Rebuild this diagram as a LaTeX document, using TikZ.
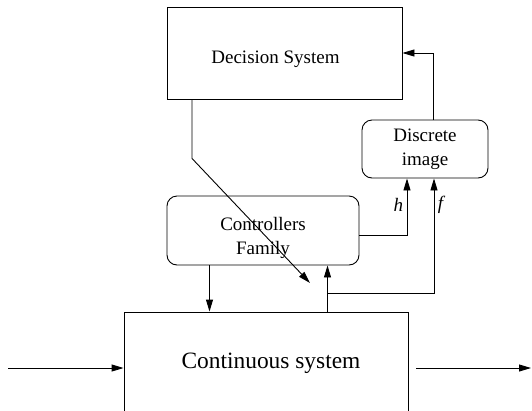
\documentclass[tikz,border=0pt]{standalone}
\usepackage{fontspec}
\setmainfont{Liberation Serif}
\newfontfamily\labelfont{Liberation Serif}
\usetikzlibrary{arrows.meta}
\begin{document}
\begin{tikzpicture}[x=1pt,y=-1pt,
  line width=0.9pt,
  arr/.style={-{Triangle[length=12pt,width=7pt]}},
  sqbox/.style={draw, rectangle, inner sep=0pt},
  rbox/.style={draw, rectangle, rounded corners=10pt, inner sep=0pt, align=center},
  every node/.style={font=\labelfont\fontsize{19}{24}\selectfont}]

\useasboundingbox (0,0) rectangle (532,410);
\clip (0,0) rectangle (532,410);

% blocks
\node[sqbox, minimum width=235pt, minimum height=92pt,
      label={[xshift=-9pt,yshift=-6pt]center:Decision System}] (dec) at (284.5,53) {};
\node[rbox, minimum width=192pt, minimum height=69pt,
      label={[yshift=-7pt,align=center]center:Controllers\\Family}] (ctrl) at (263,230.5) {};
\node[rbox, minimum width=126pt, minimum height=58pt] (disc) at (425,149) {Discrete\\image};
\node[sqbox, minimum width=284pt, minimum height=118pt,
      label={[xshift=5pt,yshift=8pt,font=\labelfont\fontsize{23.4}{28}\selectfont]center:Continuous system}] (cont) at (266,371) {};

% free ends and branch point
\coordinate (dtip) at (310,283);
\coordinate (fj) at (327.5,293);
\coordinate (in) at (8,368);
\coordinate (outs) at (416,368);
\coordinate (out) at (531,368);

% connectors
\draw[arr] ([xshift=8pt]disc.north) |- (dec.east);
\draw[arr] ([xshift=-92.5pt]dec.south) -- ++(0,59) -- (dtip);
\draw[arr] ([xshift=-53.5pt]ctrl.south) -- ([xshift=-53.5pt]ctrl.south |- cont.north);
\draw[arr] ([yshift=-4.5pt]ctrl.east) -| ([xshift=-18pt]disc.south)
  node[pos=0.763, left] {\textit{h}};
\draw[arr] ([xshift=61.5pt]cont.north) -- ([xshift=61.5pt]cont.north |- ctrl.south);
\draw[arr] (fj) -| ([xshift=9pt]disc.south)
  node[pos=0.883, right] {\textit{f}};
\draw[arr] (in) -- (in -| cont.west);
\draw[arr] (outs) -- (out);
\end{tikzpicture}
\end{document}
